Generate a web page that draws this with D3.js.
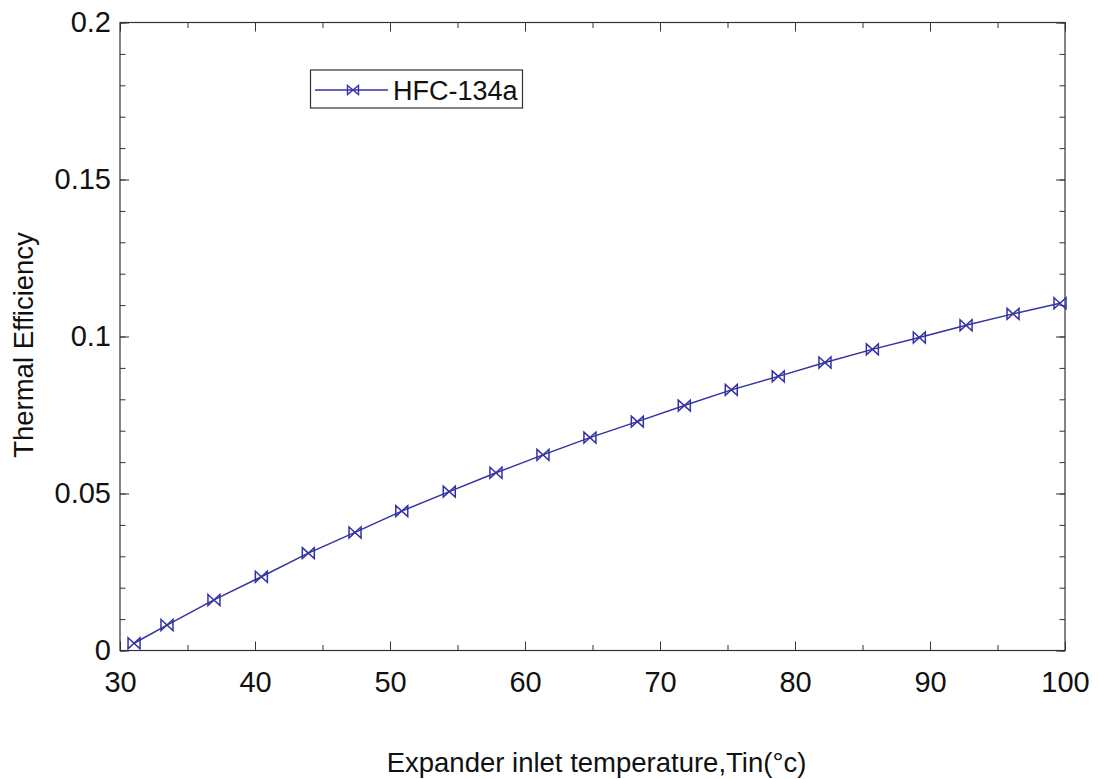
<!DOCTYPE html>
<html>
<head>
<meta charset="utf-8">
<script src="https://cdn.jsdelivr.net/npm/d3@7"></script>
<style>
  body { margin: 0; background: #fff; }
  text { font-family: Arial, "Liberation Sans", sans-serif; fill: #111; }
</style>
</head>
<body>
<script>
(function() {

    var width = 1099;
    var height = 779;

    // data
    const temps = [31.04, 33.48, 36.96, 40.47, 43.95, 47.41, 50.87, 54.39, 57.85, 61.33, 64.81,
                   68.32, 71.80, 75.28, 78.76, 82.22, 85.73, 89.21, 92.67, 96.15, 99.63];
    const efficiency = [0.0023, 0.0081, 0.0161, 0.0235, 0.0310, 0.0376, 0.0444, 0.0506, 0.0566, 0.0623, 0.0678,
                        0.0729, 0.0780, 0.0830, 0.0873, 0.0917, 0.0959, 0.0997, 0.1036, 0.1072, 0.1106];
    const xTicks = [30, 40, 50, 60, 70, 80, 90, 100];
    const yTicks = [0, 0.05, 0.1, 0.15, 0.2];
    const seriesName = "HFC-134a";

    const points = temps.map((t, i) => ({ x: t, y: efficiency[i] }));

    const left = 120, right = 1065, top = 22.5, bottom = 650.5;
    const lineColor = "#3232a4";

    const x = d3.scaleLinear().domain([30, 100]).range([left, right]);
    const y = d3.scaleLinear().domain([0, 0.2]).range([bottom, top]);

    const svg = d3.select("body")
      .append("svg")
      .attr("width", width)
      .attr("height", height);

    const xMinor = d3.range(30, 101, 5);
    const yMinor = d3.range(0, 0.2001, 0.01);
    const yFmt = d => d === 0 ? "0" : String(+d.toFixed(2));

    // minor ticks on all four sides
    svg.append("g").attr("transform", `translate(0,${bottom})`)
        .call(d3.axisBottom(x).tickValues(xMinor).tickSize(-5.5).tickFormat(""));
    svg.append("g").attr("transform", `translate(0,${top})`)
        .call(d3.axisTop(x).tickValues(xMinor).tickSize(-5.5).tickFormat(""));
    svg.append("g").attr("transform", `translate(${left},0)`)
        .call(d3.axisLeft(y).tickValues(yMinor).tickSize(-5.5).tickFormat(""));
    svg.append("g").attr("transform", `translate(${right},0)`)
        .call(d3.axisRight(y).tickValues(yMinor).tickSize(-5.5).tickFormat(""));

    // major ticks with labels
    const xAxis = svg.append("g").attr("transform", `translate(0,${bottom})`)
        .call(d3.axisBottom(x).tickValues(xTicks).tickSize(-9).tickPadding(21).tickFormat(d3.format("d")));
    svg.append("g").attr("transform", `translate(0,${top})`)
        .call(d3.axisTop(x).tickValues(xTicks).tickSize(-9).tickFormat(""));
    const yAxis = svg.append("g").attr("transform", `translate(${left},0)`)
        .call(d3.axisLeft(y).tickValues(yTicks).tickSize(-9).tickPadding(9).tickFormat(yFmt));
    svg.append("g").attr("transform", `translate(${right},0)`)
        .call(d3.axisRight(y).tickValues(yTicks).tickSize(-9).tickFormat(""));

    svg.selectAll(".domain").remove();
    svg.selectAll(".tick line").attr("stroke", "#333").attr("stroke-width", 1);
    xAxis.selectAll("text").style("font-size", "29px").attr("fill", "#111");
    yAxis.selectAll("text").style("font-size", "29px").attr("fill", "#111");

    // frame
    svg.append("rect")
        .attr("x", left).attr("y", top)
        .attr("width", right - left).attr("height", bottom - top)
        .attr("fill", "none").attr("stroke", "#333").attr("stroke-width", 1.2);

    // series line
    const line = d3.line().x(d => x(d.x)).y(d => y(d.y));
    svg.append("path")
        .datum(points)
        .attr("d", line)
        .attr("fill", "none")
        .attr("stroke", lineColor)
        .attr("stroke-width", 1.5);

    // bowtie markers
    const bowtie = "M-6,-5.5L6,5.5L6,-5.5L-6,5.5Z";
    svg.selectAll(".marker")
        .data(points)
        .join("path")
        .attr("class", "marker")
        .attr("transform", d => `translate(${x(d.x)},${y(d.y)})`)
        .attr("d", bowtie)
        .attr("fill", "none")
        .attr("stroke", lineColor)
        .attr("stroke-width", 1.5);

    // legend
    const lg = svg.append("g");
    lg.append("rect")
        .attr("x", 310.5).attr("y", 70)
        .attr("width", 212).attr("height", 38)
        .attr("fill", "#fff").attr("stroke", "#333").attr("stroke-width", 1.2);
    lg.append("line")
        .attr("x1", 315).attr("x2", 388).attr("y1", 90).attr("y2", 90)
        .attr("stroke", lineColor).attr("stroke-width", 1.4);
    lg.append("path")
        .attr("transform", "translate(353,90)")
        .attr("d", "M-5.5,-4.5L5.5,4.5L5.5,-4.5L-5.5,4.5Z")
        .attr("fill", "none").attr("stroke", lineColor).attr("stroke-width", 1.4);
    lg.append("text")
        .attr("x", 393).attr("y", 99.5)
        .style("font-size", "27px")
        .text(seriesName);

    // axis titles
    svg.append("text")
        .attr("x", (left + right) / 2 + 4).attr("y", 772)
        .attr("text-anchor", "middle")
        .style("font-size", "27.5px")
        .text("Expander inlet temperature,Tin(°c)");

    svg.append("text")
        .attr("transform", "translate(33,345) rotate(-90)")
        .attr("text-anchor", "middle")
        .style("font-size", "27.5px")
        .text("Thermal Efficiency");

})();
</script>
</body>
</html>
